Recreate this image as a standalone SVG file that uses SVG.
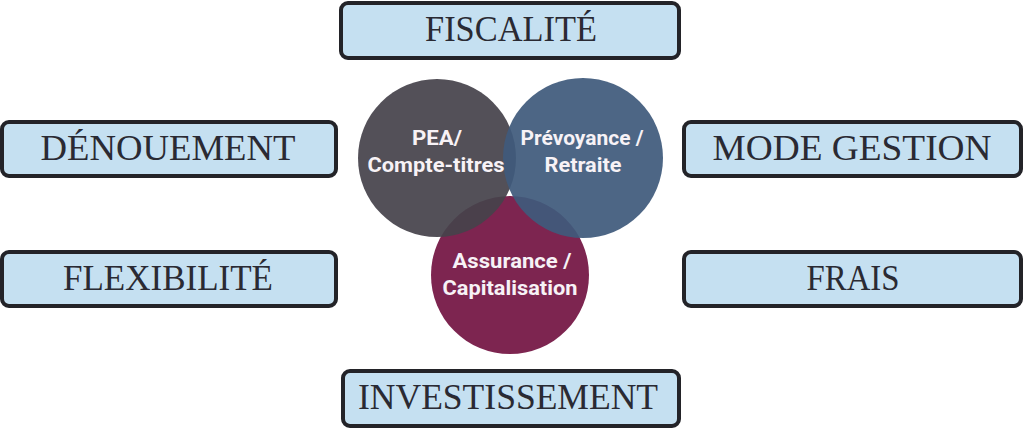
<svg xmlns="http://www.w3.org/2000/svg" width="1024" height="429" viewBox="0 0 1024 429">
<style>
.box{fill:#c5e0f1;stroke:#232328;stroke-width:4}
.bt{font-family:"Liberation Serif",serif;font-size:36px;fill:#2a2a33;text-anchor:middle}
.ct{font-family:Roboto,"Liberation Sans",sans-serif;font-weight:bold;font-size:20px;fill:#f7f2f6;text-anchor:middle}
</style>
<rect width="1024" height="429" fill="#ffffff"/>
<g id="circles">
<g id="assurance"><circle cx="510" cy="275" r="79" fill="#7d2550"/></g>
<g id="pea"><circle cx="437" cy="158" r="79" fill="#46434b" opacity="0.93"/></g>
<g id="prevoyance"><circle cx="583" cy="158" r="80" fill="#3f5a7c" opacity="0.93"/></g>
<text class="ct" x="437" y="145" textLength="50" lengthAdjust="spacingAndGlyphs">PEA/</text>
<text class="ct" x="436" y="172" textLength="137" lengthAdjust="spacingAndGlyphs">Compte-titres</text>
<text class="ct" x="582" y="145" textLength="123" lengthAdjust="spacingAndGlyphs">Prévoyance /</text>
<text class="ct" x="583" y="172" textLength="77" lengthAdjust="spacingAndGlyphs">Retraite</text>
<text class="ct" x="512" y="268" textLength="119" lengthAdjust="spacingAndGlyphs">Assurance /</text>
<text class="ct" x="510" y="295" textLength="135" lengthAdjust="spacingAndGlyphs">Capitalisation</text>
</g>
<g id="fiscalite"><rect class="box" x="341" y="3" width="338" height="55" rx="7"/><text class="bt" x="511" y="41" textLength="172" lengthAdjust="spacingAndGlyphs">FISCALITÉ</text></g>
<g id="denouement"><rect class="box" x="2" y="122" width="334" height="54" rx="7"/><text class="bt" x="168" y="160" textLength="255" lengthAdjust="spacingAndGlyphs">DÉNOUEMENT</text></g>
<g id="flexibilite"><rect class="box" x="2" y="252" width="334" height="54" rx="7"/><text class="bt" x="168" y="290" textLength="210" lengthAdjust="spacingAndGlyphs">FLEXIBILITÉ</text></g>
<g id="mode-gestion"><rect class="box" x="684" y="122" width="337" height="54" rx="7"/><text class="bt" x="852" y="160" textLength="279" lengthAdjust="spacingAndGlyphs">MODE GESTION</text></g>
<g id="frais"><rect class="box" x="684" y="252" width="337" height="54" rx="7"/><text class="bt" x="853" y="290" textLength="93" lengthAdjust="spacingAndGlyphs">FRAIS</text></g>
<g id="investissement"><rect class="box" x="343" y="371" width="336" height="55" rx="7"/><text class="bt" x="508" y="409" textLength="300" lengthAdjust="spacingAndGlyphs">INVESTISSEMENT</text></g>
<g id="connectors"/>
</svg>
